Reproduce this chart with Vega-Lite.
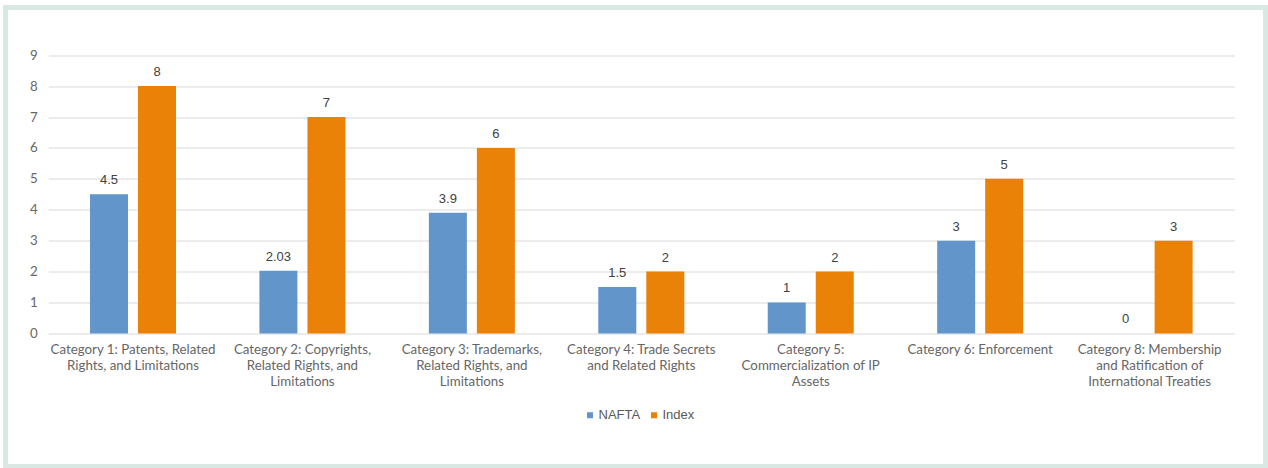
{
  "$schema": "https://vega.github.io/schema/vega-lite/v6.json",
  "autosize": "none",
  "padding": {"left": 5.5, "top": 7.5, "right": 2.5, "bottom": 1.5},
  "width": 1260,
  "height": 459,
  "background": "white",
  "data": {
    "values": [
      {"category": "Category 1: Patents, Related Rights, and Limitations", "series": "NAFTA", "value": 4.5},
      {"category": "Category 1: Patents, Related Rights, and Limitations", "series": "Index", "value": 8},
      {"category": "Category 2: Copyrights, Related Rights, and Limitations", "series": "NAFTA", "value": 2.03},
      {"category": "Category 2: Copyrights, Related Rights, and Limitations", "series": "Index", "value": 7},
      {"category": "Category 3: Trademarks, Related Rights, and Limitations", "series": "NAFTA", "value": 3.9},
      {"category": "Category 3: Trademarks, Related Rights, and Limitations", "series": "Index", "value": 6},
      {"category": "Category 4: Trade Secrets and Related Rights", "series": "NAFTA", "value": 1.5},
      {"category": "Category 4: Trade Secrets and Related Rights", "series": "Index", "value": 2},
      {"category": "Category 5: Commercialization of IP Assets", "series": "NAFTA", "value": 1},
      {"category": "Category 5: Commercialization of IP Assets", "series": "Index", "value": 2},
      {"category": "Category 6: Enforcement", "series": "NAFTA", "value": 3},
      {"category": "Category 6: Enforcement", "series": "Index", "value": 5},
      {"category": "Category 8: Membership and Ratification of International Treaties", "series": "NAFTA", "value": 0},
      {"category": "Category 8: Membership and Ratification of International Treaties", "series": "Index", "value": 3}
    ]
  },
  "encoding": {
    "x": {
      "field": "category",
      "type": "nominal",
      "sort": null,
      "scale": {"range": [42.8, 1228.8], "paddingInner": 0.4923, "paddingOuter": 0.246},
      "axis": {
        "orient": "bottom",
        "offset": -133.1,
        "title": null,
        "domain": false,
        "ticks": false,
        "grid": false,
        "labelAngle": 0,
        "labelPadding": 9,
        "labelLineHeight": 16,
        "labelFont": "Lato",
        "labelFontSize": 13.3,
        "labelColor": "#666666",
        "labelLimit": 0,
        "labelOverlap": false,
        "labelBound": false,
        "labelExpr": "datum.value == 'Category 1: Patents, Related Rights, and Limitations' ? ['Category 1: Patents, Related', 'Rights, and Limitations'] : datum.value == 'Category 2: Copyrights, Related Rights, and Limitations' ? ['Category 2: Copyrights,', 'Related Rights, and', 'Limitations'] : datum.value == 'Category 3: Trademarks, Related Rights, and Limitations' ? ['Category 3: Trademarks,', 'Related Rights, and', 'Limitations'] : datum.value == 'Category 4: Trade Secrets and Related Rights' ? ['Category 4: Trade Secrets', 'and Related Rights'] : datum.value == 'Category 5: Commercialization of IP Assets' ? ['Category 5:', 'Commercialization of IP', 'Assets'] : datum.value == 'Category 8: Membership and Ratification of International Treaties' ? ['Category 8: Membership', 'and Ratification of', 'International Treaties'] : datum.value"
      }
    },
    "xOffset": {
      "field": "series",
      "type": "nominal",
      "sort": ["NAFTA", "Index"],
      "scale": {"paddingInner": 0.2083, "paddingOuter": 0}
    },
    "y": {
      "field": "value",
      "type": "quantitative",
      "stack": null,
      "scale": {"domain": [-4.306, 10.543], "nice": false, "zero": false},
      "axis": {
        "orient": "left",
        "offset": -42.8,
        "title": null,
        "domain": false,
        "ticks": false,
        "grid": true,
        "gridColor": "#d9d9d9",
        "gridWidth": 1,
        "values": [0, 1, 2, 3, 4, 5, 6, 7, 8, 9],
        "labelPadding": 11,
        "labelFont": "Lato",
        "labelFontSize": 13.3,
        "labelColor": "#666666"
      }
    }
  },
  "layer": [
    {
      "mark": {"type": "bar"},
      "encoding": {
        "y2": {"datum": 0},
        "color": {
          "field": "series",
          "type": "nominal",
          "sort": ["NAFTA", "Index"],
          "scale": {"domain": ["NAFTA", "Index"], "range": ["#6295c9", "#ea8208"]},
          "legend": {
            "title": null,
            "orient": "none",
            "direction": "horizontal",
            "legendX": 578,
            "legendY": 401,
            "symbolType": "square",
            "symbolSize": 36,
            "symbolStrokeWidth": 0,
            "labelOffset": 2,
            "columnPadding": 7,
            "labelFont": "Liberation Sans",
            "labelFontSize": 13,
            "labelColor": "#595959"
          }
        }
      }
    },
    {
      "mark": {"type": "text", "baseline": "alphabetic", "dy": -10, "font": "Liberation Sans", "fontSize": 13, "color": "#404040"},
      "encoding": {
        "text": {"field": "value", "type": "quantitative", "format": ""}
      }
    }
  ],
  "config": {
    "view": {"stroke": "#d9e8e2", "strokeWidth": 5, "fill": "white"}
  }
}
